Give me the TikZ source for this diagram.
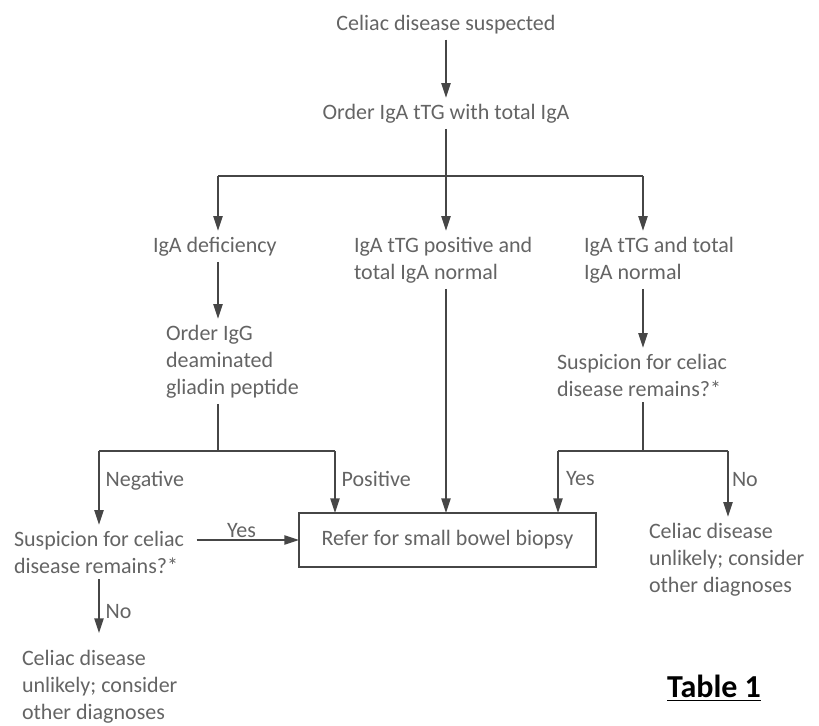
\documentclass[tikz,border=0pt]{standalone}
\usepackage{fontspec}
\setmainfont{Carlito}
\usepackage{xcolor}
\usepackage{tikz}
\usetikzlibrary{arrows.meta,positioning,calc}
\definecolor{ctext}{RGB}{100,100,100}
\definecolor{cline}{RGB}{70,70,70}

\begin{document}
\begin{tikzpicture}[
    x=0.75pt, y=-0.75pt,
    >={Triangle[length=11pt,width=7pt]},
    txt/.style={
        inner sep=0pt,
        outer xsep=0pt,
        outer ysep=4.5pt,
        align=left,
        text=ctext,
        font=\fontsize{16.5}{20.25}\selectfont
    },
    lbl/.style={
        txt,
        outer ysep=0pt
    },
    box/.style={
        txt,
        rectangle,
        draw=cline,
        line width=1pt,
        outer ysep=0pt,
        minimum width=222.75pt,
        minimum height=40.5pt
    },
    ln/.style={
        line width=1pt,
        draw=cline
    },
    arr/.style={
        ln,
        ->
    }
]
\useasboundingbox (0,0) rectangle (819,726);

% Top: suspicion and first test
\node[txt, anchor=base] (start) at (446,30) {Celiac disease suspected};
\node[txt, anchor=base] (order) at (446,119) {Order IgA tTG with total IgA};

% Row 2: the three results (base = last line)
\node[txt, anchor=base west] (defic) at (153,252) {IgA deficiency};
\node[txt, anchor=base west] (pos) at (354,279) {IgA tTG positive and\\total IgA normal};
\node[txt, anchor=base west] (norm) at (584,279) {IgA tTG and total\\IgA normal};

% Row 3
\node[txt, anchor=base west] (dgp) at (166,394) {Order IgG\\deaminated\\gliadin peptide};
\node[txt, anchor=base west] (suspR) at (557,396) {Suspicion for celiac\\disease remains?*};

% Row 4: biopsy and outcomes
\node[box] (biopsy) at (447.5,540) {Refer for small bowel biopsy};
\node[txt, anchor=base west] (suspL) at (14,573) {Suspicion for celiac\\disease remains?*};
\node[txt, anchor=base west] (unlR) at (649,592) {Celiac disease\\unlikely; consider\\other diagnoses};
\node[txt, anchor=base west] (unlL) at (22,719) {Celiac disease\\unlikely; consider\\other diagnoses};

\node[font=\fontsize{24}{28}\selectfont\bfseries, text=black] (tab) at (714,688) {\underline{Table 1}};

% Branch points
\coordinate (brL) at (218,176);
\coordinate (brM) at (446,176);
\coordinate (brR) at (643,176);
\coordinate (dgpB) at (218,451);
\coordinate (negC) at (99,451);
\coordinate (posC) at (335,451);
\coordinate (susB) at (643,451);
\coordinate (yesC) at (558,451);
\coordinate (noC) at (728,451);

% Connectors
\draw[arr] (start) -- (order);
\draw[ln] (order) -- (brM);
\draw[ln] (brL) -- (brR);
\draw[arr] (brL) -- (defic.north -| brL);
\draw[arr] (brM) -- (pos.north -| brM);
\draw[arr] (brR) -- (norm.north -| brR);

\draw[arr] (defic.south -| brL) -- (dgp.north -| brL);
\draw[arr] (norm.south -| brR) -- (suspR.north -| brR);
\draw[arr] (pos.south -| brM) -- (biopsy.north -| brM);

% IgG DGP result
\draw[ln] (dgp.south -| dgpB) -- (dgpB);
\draw[ln] (negC) -- (posC);
\draw[arr] (negC) -- node[lbl, right=5pt, pos=0.40] {Negative} (suspL.north -| negC);
\draw[arr] (posC) -- node[lbl, right=5pt, pos=0.45] {Positive} (biopsy.north -| posC);

% Right suspicion
\draw[ln] (suspR.south -| susB) -- (susB);
\draw[ln] (yesC) -- (noC);
\draw[arr] (yesC) -- node[lbl, right=6pt, pos=0.45] {Yes} (biopsy.north -| yesC);
\draw[arr] (noC) -- node[lbl, right=3pt, pos=0.43] {No} (unlR.north -| noC);

% Left suspicion
\draw[arr, shorten <=9.5pt] (suspL.east |- biopsy.west) -- node[lbl, above=2pt] {Yes} (biopsy.west);
\draw[arr, shorten >=8pt] (suspL.south -| negC) -- node[lbl, right=5pt, pos=0.5] {No} (unlL.north -| negC);

\end{tikzpicture}
\end{document}
